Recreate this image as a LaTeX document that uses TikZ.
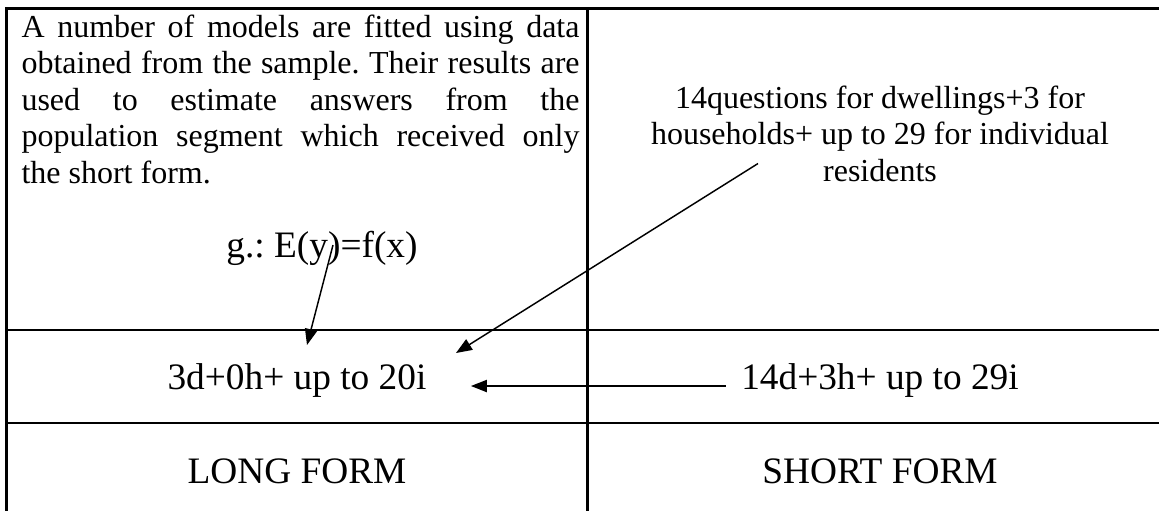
\documentclass[tikz,border=0pt]{standalone}
\usepackage{fontspec}
\setmainfont{Liberation Serif}
\usetikzlibrary{arrows.meta}
\frenchspacing

\begin{document}
\begin{tikzpicture}[x=0.375pt, y=-0.375pt,
  grid/.style={line width=0.95pt},
  cell/.style={inner sep=0pt, font=\fontsize{14}{16}\selectfont, anchor=base},
  note/.style={inner sep=0pt, font=\fontsize{12}{13.8}\selectfont},
  link/.style={line width=0.55pt, -{Triangle[length=6pt, width=4.6pt]}}]
  \useasboundingbox (0,0) rectangle (1159,510);
  \clip (0,0) rectangle (1159,510);

  % table grid (open to the right and below)
  \draw[grid] (1172,8.5) -- (6.5,8.5) -- (6.5,540);
  \draw[grid] (587.5,8.5) -- (587.5,540);
  \draw[grid] (6.5,330) -- (1172,330);
  \draw[grid] (6.5,423) -- (1172,423);

  % top row
  \node[note, text width=209.25pt, align=justify, anchor=north west,
        font=\fontsize{12}{13.7}\selectfont] (fitted) at (21,14)
    {A number of models are fitted using data\linebreak
     obtained from the sample. Their results are\linebreak
     used to estimate answers from the\linebreak
     population segment which received only\linebreak
     the short form.};
  \node[cell] (model) at (322,257) {g.: E(y)=f(x)};
  \node[note, align=center, anchor=north] (questions) at (880,85)
    {14questions for dwellings+3 for\\households+ up to 29 for individual\\residents};

  % counts row
  \node[cell] (longcount) at (297,389) {3d+0h+ up to 20i};
  \node[cell] (shortcount) at (880,389) {14d+3h+ up to 29i};

  % form row
  \node[cell] (longform) at (297,483) {LONG FORM};
  \node[cell] (shortform) at (880,483) {SHORT FORM};

  % arrows
  \draw[link] ([shift={(11,-12)}]model.base) -- ([shift={(10,-44)}]longcount.base);
  \draw[link] ([shift={(-122,-19)}]questions.south) -- ([shift={(29,-36)}]longcount.base east);
  \draw[link] ([shift={(-15,-3)}]shortcount.base west) -- ([shift={(44,-3)}]longcount.base east);
\end{tikzpicture}
\end{document}
